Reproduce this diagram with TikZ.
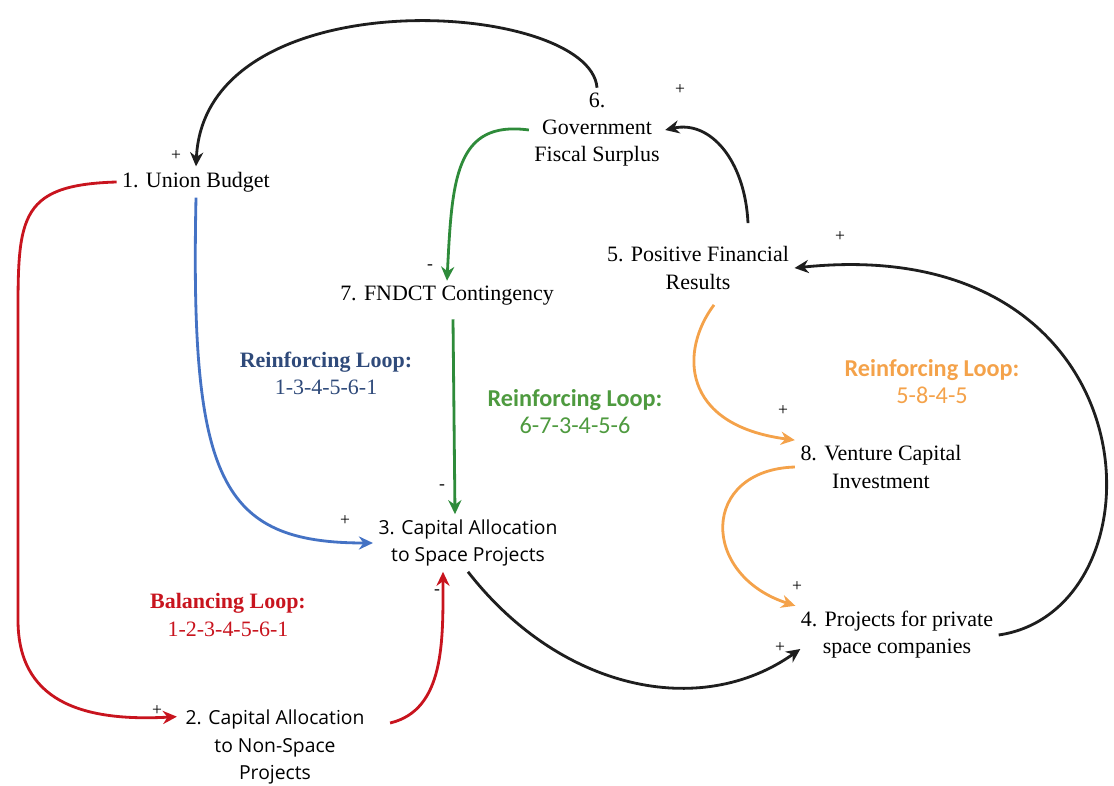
\documentclass[tikz,border=0pt]{standalone}
\usepackage{fontspec}
\setmainfont{Liberation Serif}
\newfontfamily\labfont{Carlito}
\newfontfamily\nodesans{Open Sans}
\usetikzlibrary{arrows.meta,calc}
\definecolor{dark}{HTML}{1E1E1E}
\definecolor{loopblue}{HTML}{4472C4}
\definecolor{bluetext}{HTML}{2F4A7A}
\definecolor{loopgreen}{HTML}{2E8B3A}
\definecolor{greentext}{HTML}{4E9A3F}
\definecolor{looporange}{HTML}{F4A24A}
\definecolor{loopred}{HTML}{C8141E}

\begin{document}
\begin{tikzpicture}[x=0.02cm,y=-0.02cm,
  var/.style={align=center,inner sep=3pt,font=\fontsize{12.5}{15.4}\selectfont},
  svar/.style={align=center,inner sep=3pt,font=\nodesans\fontsize{11}{15.4}\selectfont},
  link/.style={line width=1.6pt,-{Stealth[length=8pt,width=7.5pt]}},
  sgn/.style={inner sep=0pt,font=\fontsize{10}{10}\selectfont}]
  \useasboundingbox (0,0) rectangle (1114,786);

  % variables
  \node[var]  (budget)   at (196,182) {1. Union Budget};
  \node[svar] (nonspace) at (275,747) {2. Capital Allocation\\to Non-Space\\Projects};
  \node[svar] (space)    at (468,543) {3. Capital Allocation\\to Space Projects};
  \node[var]  (private)  at (897,635) {4. Projects for private\\space companies};
  \node[var]  (results)  at (698,268) {5. Positive Financial\\Results};
  \node[var]  (surplus)  at (597,130) {6.\\Government\\Fiscal Surplus};
  \node[var]  (fndct)    at (447,296) {7. FNDCT Contingency};
  \node[var]  (venture)  at (881,467) {8. Venture Capital\\Investment};

  % loop labels
  \node[align=center,text=bluetext,font=\fontsize{12.5}{15.4}\selectfont] (lblue) at (326,373)
    {\textbf{Reinforcing Loop:}\\1-3-4-5-6-1};
  \node[align=center,text=greentext,font=\labfont\fontsize{13.8}{15.4}\selectfont] (lgreen) at (575,412)
    {\textbf{Reinforcing Loop:}\\6-7-3-4-5-6};
  \node[align=center,text=looporange,font=\labfont\fontsize{13.8}{15.4}\selectfont] (lorange) at (932,382)
    {\textbf{Reinforcing Loop:}\\5-8-4-5};
  \node[align=center,text=loopred,font=\fontsize{12.5}{15.4}\selectfont] (lred) at (228,615)
    {\textbf{Balancing Loop:}\\1-2-3-4-5-6-1};

  % links
  \draw[link,dark] (surplus.north) .. controls (590,0) and (205,-25) .. (budget.north);
  \draw[link,loopgreen] (surplus.west) .. controls (455,120) and (452,180) .. (fndct.north);
  \draw[link,dark] ($(results.north)+(50,-18)$) .. controls (745,160) and (710,120) .. (surplus.east);
  \draw[link,dark] (private.east) .. controls (1170,610) and (1160,230) .. (results.east);
  \draw[link,looporange] ($(results.south)+(16,10)$) .. controls (680,350) and (680,425) .. (venture.north west);
  \draw[link,looporange] (venture.west) .. controls (700,470) and (700,575) .. (private.north west);
  \draw[link,dark] (space.south) .. controls (560,690) and (700,720) .. ($(private.west)+(5,14)$);
  \draw[link,loopred] ($(nonspace.east)+(20,-24)$) .. controls (445,710) and (443,640) .. ($(space.south)+(-25,0)$);
  \draw[link,loopred] (budget.west) .. controls (15,185) and (18,220) .. (18,330) -- (18,620)
    .. controls (18,700) and (80,722) .. ($(nonspace.north west)+(-3,12)$);
  \draw[link,loopblue] (budget.south) .. controls (190,480) and (220,543) .. (space.west);
  \draw[link,loopgreen] ($(fndct.south)+(6,8)$) -- ($(space.north)+(-13,0)$);

  % polarities
  \foreach \i/\x/\y/\s in {1/176/156/+,2/680/90/+,3/430/267/-,4/840/237/+,5/783/411/+,
      6/442/487/-,7/345/521/+,8/437/592/-,9/157/711/+,10/797/587/+,11/780/648/+}
    \node[sgn] (s\i) at (\x,\y) {\s};
\end{tikzpicture}
\end{document}
